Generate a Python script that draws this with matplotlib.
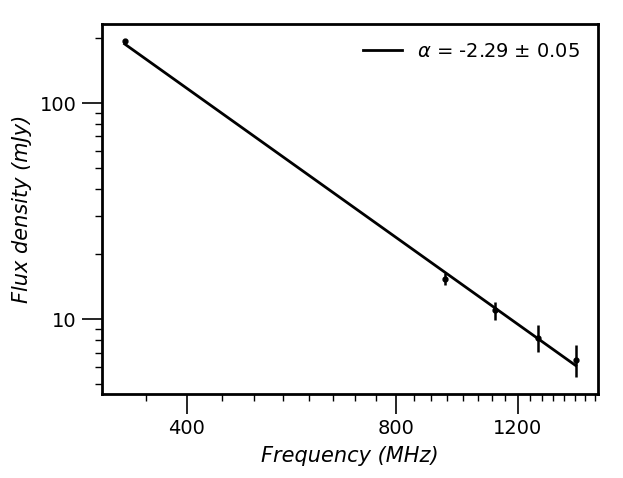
import numpy as np
import matplotlib
matplotlib.use("Agg")
import matplotlib.pyplot as plt
from matplotlib.ticker import MultipleLocator, FixedLocator, NullFormatter, ScalarFormatter

# Messwerte
freq = np.array([325.6, 941.0, 1111.0, 1282.0, 1454.0])   # MHz
flux = np.array([194.0, 15.4, 11.0, 8.2, 6.5])             # mJy
flux_err = np.array([2.0, 1.0, 1.05, 1.15, 1.1])

# Fit-Parameter (Potenzgesetz)
alpha = -2.29
alpha_err = 0.05
s_ref = 187.6      # mJy bei nu_ref
nu_ref = 325.6     # MHz


def plot_spectrum(filename):
    fig = plt.figure(figsize=(6.23, 4.78), dpi=100)
    ax = fig.add_axes([0.1637, 0.1757, 0.796, 0.774])

    ### Messwerte:
    ax.errorbar(freq, flux, yerr=flux_err, fmt='o', color='k', markersize=3.5,
                elinewidth=1.8, capsize=0, zorder=3)

    ### Potenzgesetz:
    nu = np.linspace(freq.min(), freq.max(), 200)
    ax.plot(nu, s_ref * (nu / nu_ref) ** alpha, color='k', linewidth=2,
            label=r'$\alpha$ = %.2f $\pm$ %.2f' % (alpha, alpha_err))

    ### Layout:
    ax.set_xscale('log')
    ax.set_yscale('log')
    ax.set_xlim(302, 1565)
    ax.set_ylim(4.5, 232)

    ax.xaxis.set_major_locator(FixedLocator([400, 800, 1200]))
    ax.xaxis.set_minor_locator(MultipleLocator(50))
    ax.xaxis.set_major_formatter(ScalarFormatter())
    ax.xaxis.set_minor_formatter(NullFormatter())
    ax.yaxis.set_major_formatter(ScalarFormatter())
    ax.yaxis.set_minor_formatter(NullFormatter())

    ax.tick_params(which='major', length=14.5, width=1.2, labelsize=14)
    ax.tick_params(which='minor', length=5, width=1)
    for sp in ax.spines.values():
        sp.set_linewidth(2)

    ax.set_xlabel('Frequency (MHz)', fontsize=15, fontstyle='italic', labelpad=6)
    ax.set_ylabel('Flux density (mJy)', fontsize=15, fontstyle='italic', labelpad=6)

    ax.legend(frameon=False, fontsize=14, loc='upper right', handlelength=2.0)
    plt.savefig(filename, dpi=100)


plot_spectrum('out.png')
